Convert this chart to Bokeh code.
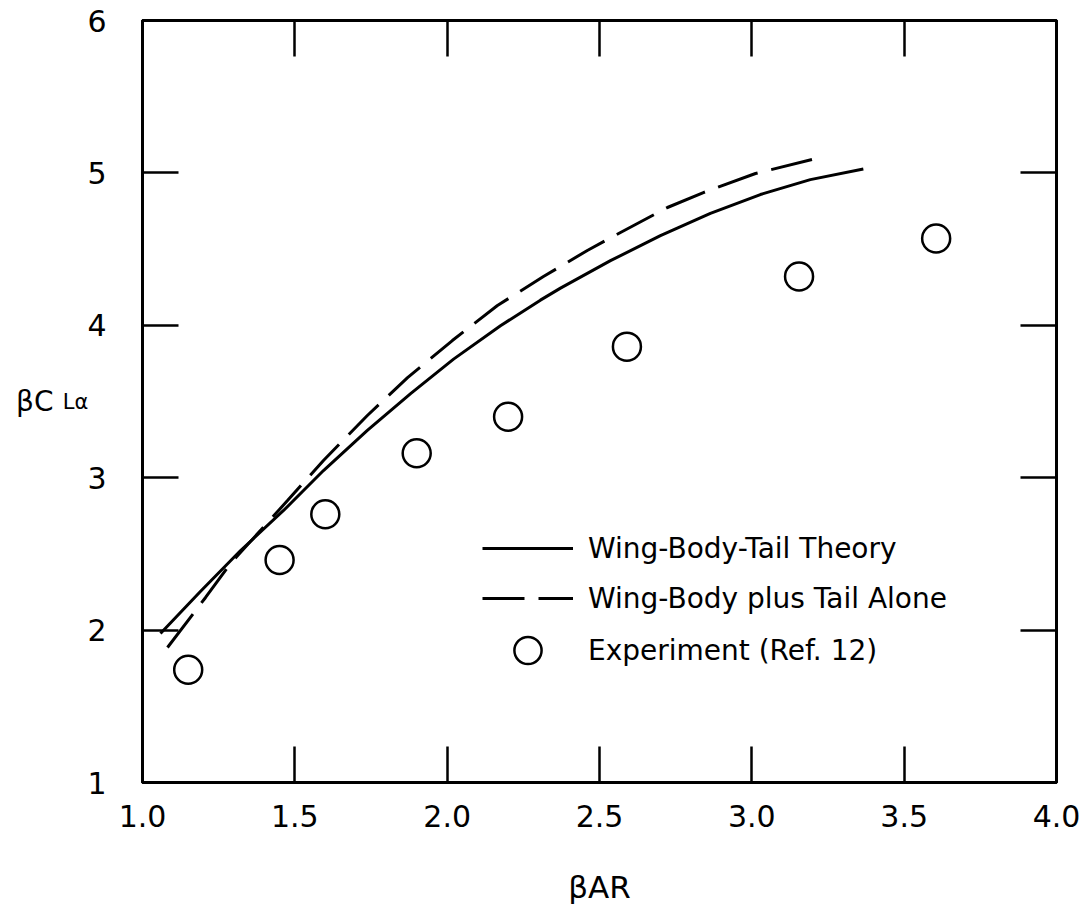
from bokeh.plotting import figure
from bokeh.models import (LinearAxis, FixedTicker, Legend, LegendItem, Range1d)
from bokeh.embed import file_html
from bokeh.resources import INLINE

# ---- data ----
theory_x = [1.059, 1.190, 1.322, 1.463, 1.594, 1.738, 1.880, 2.021, 2.175, 2.306,
            2.372, 2.536, 2.700, 2.864, 3.028, 3.192, 3.366]
theory_y = [1.978, 2.253, 2.522, 2.785, 3.047, 3.310, 3.552, 3.778, 3.997, 4.165,
            4.244, 4.424, 4.588, 4.735, 4.858, 4.956, 5.025]

alone_x = [1.082, 1.207, 1.289, 1.476, 1.594, 1.738, 1.870, 2.017, 2.165, 2.316,
           2.460, 2.569, 2.723, 2.841, 3.012, 3.225]
alone_y = [1.886, 2.214, 2.437, 2.850, 3.113, 3.408, 3.657, 3.900, 4.130, 4.320,
           4.491, 4.609, 4.773, 4.871, 4.996, 5.101]

exp_x = [1.15, 1.45, 1.60, 1.90, 2.20, 2.59, 3.155, 3.605]
exp_y = [1.74, 2.46, 2.76, 3.16, 3.40, 3.86, 4.32, 4.57]

x_ticks = [1.0, 1.5, 2.0, 2.5, 3.0, 3.5, 4.0]
x_tick_labels = ["1.0", "1.5", "2.0", "2.5", "3.0", "3.5", "4.0"]
y_ticks = [1, 2, 3, 4, 5, 6]
y_tick_labels = ["1", "2", "3", "4", "5", "6"]

series_names = ["Wing-Body-Tail Theory", "Wing-Body plus Tail Alone", "Experiment (Ref. 12)"]
x_title = "βAR"
y_title_main = "βC"
y_title_sub = "Lα"

FONT = "DejaVu Sans"

p = figure(frame_width=914, frame_height=762, output_backend="svg", toolbar_location=None,
           x_range=Range1d(1.0, 4.0), y_range=Range1d(1, 6),
           x_axis_location=None, y_axis_location=None,
           min_border_left=142, min_border_right=25, min_border_top=20, min_border_bottom=110)
p.xgrid.visible = False
p.ygrid.visible = False
p.background_fill_color = "white"
p.border_fill_color = "white"
p.outline_line_color = "black"
p.outline_line_width = 3


def style_axis(ax, ticks, labels, show_labels):
    ax.ticker = FixedTicker(ticks=ticks)
    ax.major_label_overrides = {t: l for t, l in zip(ticks, labels)}
    ax.major_tick_in = 36
    ax.major_tick_out = 0
    ax.major_tick_line_width = 2.5
    ax.major_tick_line_color = "black"
    ax.minor_tick_line_color = None
    ax.axis_line_color = "black"
    ax.axis_line_width = 3
    ax.axis_label_text_font = FONT
    ax.axis_label_text_font_style = "normal"
    ax.axis_label_text_color = "black"
    if show_labels:
        ax.major_label_text_font = FONT
        ax.major_label_text_font_size = "30px"
        ax.major_label_text_color = "black"
    else:
        ax.major_label_text_font_size = "0px"
        ax.major_label_text_color = None
        ax.major_label_standoff = 0


bottom = LinearAxis(axis_label=x_title)
style_axis(bottom, x_ticks, x_tick_labels, True)
bottom.major_label_standoff = 22
bottom.axis_label_text_font_size = "31px"
bottom.axis_label_standoff = 39
p.add_layout(bottom, "below")

left = LinearAxis(axis_label=y_title_sub)
style_axis(left, y_ticks, y_tick_labels, True)
left.major_label_standoff = 36
left.axis_label_text_font_size = "21px"
left.axis_label_standoff = -4
left.axis_label_orientation = "horizontal"
left.axis_label_text_baseline = "top"
p.add_layout(left, "left")

left2 = LinearAxis(axis_label=y_title_main)
style_axis(left2, [], [], False)
left2.axis_line_color = None
left2.axis_label_text_font_size = "28px"
left2.axis_label_standoff = 6
left2.axis_label_orientation = "horizontal"
left2.axis_label_text_baseline = "top"
p.add_layout(left2, "left")

top = LinearAxis()
style_axis(top, x_ticks, x_tick_labels, False)
p.add_layout(top, "above")

right = LinearAxis()
style_axis(right, y_ticks, y_tick_labels, False)
p.add_layout(right, "right")

r_theory = p.line(theory_x, theory_y, line_color="black", line_width=3)
r_alone = p.line(alone_x, alone_y, line_color="black", line_width=3, line_dash="42 14")
r_exp = p.scatter(exp_x, exp_y, marker="circle", size=28, fill_color="white",
                  line_color="black", line_width=2.5)

legend_lines = Legend(items=[LegendItem(label=series_names[0], renderers=[r_theory]),
                             LegendItem(label=series_names[1], renderers=[r_alone])],
                      location=(340, 159), glyph_width=91, glyph_height=50, spacing=0,
                      label_standoff=15, padding=0, margin=0,
                      border_line_color=None, background_fill_alpha=0,
                      label_text_font=FONT, label_text_font_size="28px",
                      label_text_color="black")
p.add_layout(legend_lines)

legend_exp = Legend(items=[LegendItem(label=series_names[2], renderers=[r_exp])],
                    location=(340, 98), glyph_width=91, glyph_height=68, spacing=0,
                    label_standoff=15, padding=0, margin=0,
                    border_line_color=None, background_fill_alpha=0,
                    label_text_font=FONT, label_text_font_size="28px",
                    label_text_color="black")
p.add_layout(legend_exp)

open("out.html", "w").write(file_html(p, INLINE))
